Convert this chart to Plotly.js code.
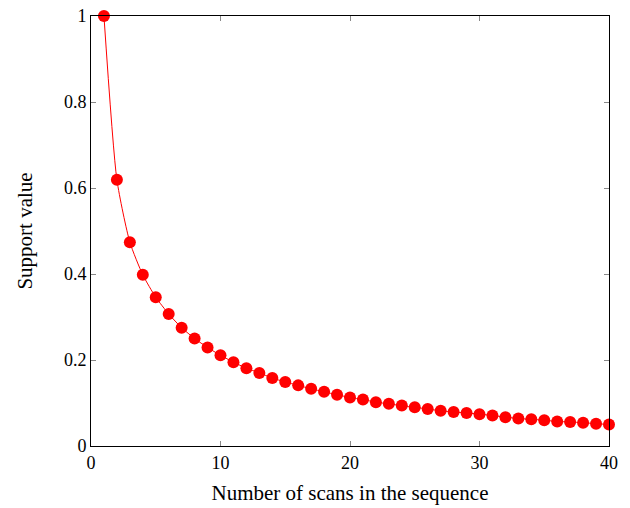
<!DOCTYPE html>
<html><head><meta charset="utf-8">
<script src="https://cdn.plot.ly/plotly-3.0.1.min.js"></script>
<style>html,body{margin:0;padding:0;background:#fff}#c{width:630px;height:508px}</style>
</head><body><div id="c"></div>
<script>
const scans = [1,2,3,4,5,6,7,8,9,10,11,12,13,14,15,16,17,18,19,20,21,22,23,24,25,26,27,28,29,30,31,32,33,34,35,36,37,38,39,40];
const support = [1.0,0.619,0.474,0.398,0.346,0.307,0.275,0.250,0.229,0.211,0.195,0.181,0.170,0.158,0.149,0.141,0.133,0.126,0.119,0.113,0.108,0.102,0.098,0.094,0.090,0.086,0.082,0.079,0.077,0.074,0.071,0.067,0.064,0.062,0.060,0.057,0.056,0.054,0.052,0.050];
const xTicks = [0,10,20,30,40];
const yTicks = [0,0.2,0.4,0.6,0.8,1];
const yTickText = ['0','0.2','0.4','0.6','0.8','1'];

const font = {family: 'Liberation Serif, DejaVu Serif, serif', size: 18, color: '#000'};
Plotly.newPlot('c', [{
  x: scans, y: support, type: 'scatter', mode: 'lines+markers',
  line: {color: '#ff0000', width: 1, shape: 'spline', smoothing: 0.6},
  marker: {color: '#ff0000', size: 12},
  cliponaxis: false
}], {
  width: 630, height: 508,
  margin: {l: 91, r: 21, t: 16, b: 62},
  paper_bgcolor: '#fff', plot_bgcolor: '#fff',
  font: font,
  showlegend: false,
  xaxis: {range: [0, 40], tickvals: xTicks, ticks: 'inside', ticklen: 5, tickcolor: '#888',
    showline: true, linecolor: '#000', linewidth: 1, mirror: 'ticks', showgrid: false, zeroline: false,
    tickfont: {size: 18}, title: {text: 'Number of scans in the sequence', font: {size: 21}, standoff: 13}},
  yaxis: {range: [0, 1], tickvals: yTicks, ticktext: yTickText, ticks: 'inside', ticklen: 5, tickcolor: '#888',
    showline: true, linecolor: '#000', linewidth: 1, mirror: 'ticks', showgrid: false, zeroline: false,
    tickfont: {size: 18}, title: {text: 'Support value', font: {size: 21}, standoff: 25}}
}, {displayModeBar: false, staticPlot: true});
</script></body></html>
